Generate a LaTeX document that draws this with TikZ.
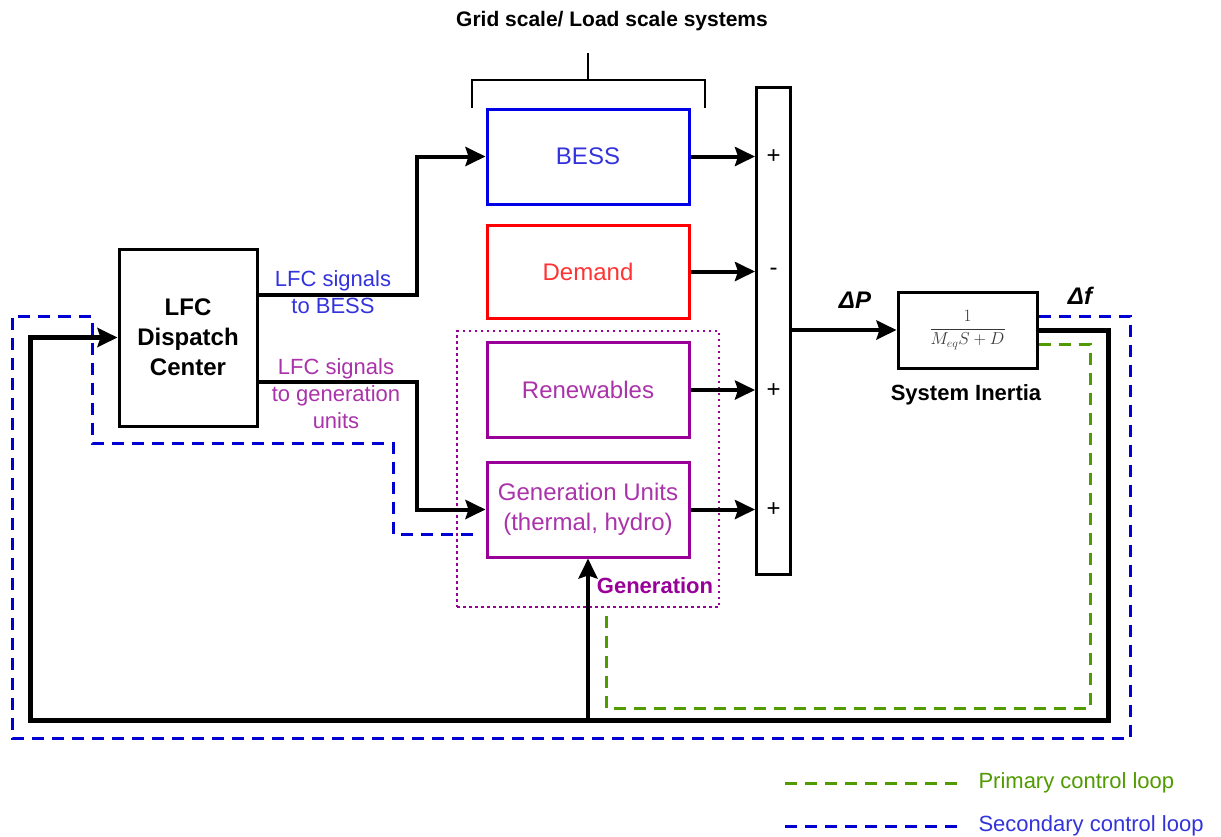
\documentclass[tikz,border=0pt]{standalone}
\usepackage{fontspec}
\setmainfont{Liberation Sans}
\usepackage{tikz}
\usetikzlibrary{arrows.meta,positioning}
\usepackage{xcolor}
\definecolor{bessblue}{RGB}{0,0,230}
\definecolor{besstext}{RGB}{51,51,221}
\definecolor{demandred}{RGB}{255,0,0}
\definecolor{demandtext}{RGB}{255,51,51}
\definecolor{genpurple}{RGB}{153,0,153}
\definecolor{gentext}{RGB}{170,51,170}
\definecolor{loopgreen}{RGB}{80,155,0}
\definecolor{loopblue}{RGB}{0,0,210}
\definecolor{tfgray}{RGB}{55,55,55}
\tikzstyle{block} = [draw, line width=3pt, minimum width=202pt, minimum height=95pt, inner sep=0pt, align=center, font=\fontsize{24}{28}\selectfont]
\tikzstyle{arrow} = [line width=4pt,->,>={Stealth[length=20pt,width=19pt,inset=3pt]}]
\tikzstyle{feedback} = [line width=5pt,->,>={Stealth[length=20pt,width=19pt,inset=3pt]}]
\tikzstyle{primary} = [line width=3pt, color=loopgreen, dash pattern=on 12pt off 8pt]
\tikzstyle{secondary} = [line width=3pt, color=loopblue, dash pattern=on 12pt off 8pt]
\tikzstyle{sign} = [font=\fontsize{24}{28}\selectfont]
\tikzstyle{lbl} = [align=center, font=\fontsize{22}{27}\selectfont]

\begin{document}
\begin{tikzpicture}[x=1pt, y=-1pt]
\useasboundingbox[fill=white] (0,0) rectangle (1221,836);

% Grid / load scale bracket
\node[font=\bfseries\fontsize{21}{25}\selectfont] (title) at (612,21) {Grid scale/ Load scale systems};
\draw[line width=2pt] (472,108) -- (472,80) -- (705,80) -- (705,108);
\draw[line width=2pt] (588,80) -- (588,53);

% Generation zone
\node[draw=genpurple, line width=2.5pt, dash pattern=on 2.5pt off 3.5pt, minimum width=262pt, minimum height=276pt] (genzone) at (588,469) {};
\node[genpurple, font=\bfseries\fontsize{22}{26}\selectfont] (genlabel) at (655,586) {Generation};

% Blocks
\node[block, draw=bessblue, text=besstext] (bess) at (588,156.5) {BESS};
\node[block, draw=demandred, text=demandtext, minimum height=93pt] (demand) at (588,271.5) {Demand};
\node[block, draw=genpurple, text=gentext] (renew) at (588,390) {Renewables};
\node[block, draw=genpurple, text=gentext, font=\fontsize{24}{30}\selectfont] (gen) at (588,509.5) {Generation Units\\(thermal, hydro)};

% LFC dispatch center
\node[block, draw=black, minimum width=138pt, minimum height=177pt, font=\bfseries\fontsize{24}{30}\selectfont] (lfc) at (188,337.5) {LFC\\Dispatch\\Center};

% Summation bar
\node[draw, line width=3pt, minimum width=34pt, minimum height=487pt] (sum) at (773.5,331) {};
\node[sign] (s1) at (773.5,157) {+};
\node[sign] (s2) at (773.5,272) {-};
\node[sign] (s3) at (773.5,391) {+};
\node[sign] (s4) at (773.5,510) {+};

% System inertia
\node[draw, line width=3pt, minimum width=139pt, minimum height=76pt, text=tfgray, font=\fontsize{17}{20}\selectfont] (tf) at (967.5,330) {$\displaystyle\frac{1}{M_{eq}S+D}$};
\node[font=\bfseries\fontsize{22}{26}\selectfont] (tflabel) at (966,395) {System Inertia};
\node[font=\bfseries\itshape\fontsize{24}{28}\selectfont] (dp) at (855,300) {ΔP};
\node[font=\bfseries\itshape\fontsize{24}{28}\selectfont] (df) at (1080,296) {Δf};

% Signals
\draw[arrow] ([yshift=43pt]lfc.east) -- ++(158,0) |- (bess.west);
\draw[arrow] ([yshift=-44.5pt]lfc.east) -- ++(158,0) |- (gen.west);
\node[lbl, text=besstext] (sigbess) at (333,292) {LFC signals\\to BESS};
\node[lbl, text=gentext] (siggen) at (336,394) {LFC signals\\to generation\\units};

\draw[arrow] (bess.east) -- (bess.east -| sum.west);
\draw[arrow] (demand.east) -- (demand.east -| sum.west);
\draw[arrow] (renew.east) -- (renew.east -| sum.west);
\draw[arrow] (gen.east) -- (gen.east -| sum.west);
\draw[arrow] (sum.east |- tf.west) -- (tf.west);

% Feedback
\coordinate (fbR) at (1108,720);
\coordinate (fbL) at (30,720);
\draw[feedback] (tf.east) -| (fbR) -- (fbL) |- (lfc.west);
\draw[arrow] (gen.south |- fbL) -- (gen.south);

% Control loops
\draw[primary] ([yshift=-14pt]tf.east) -- (1090,344) -- (1090,708) -- (606,708) -- (606,610);
\draw[secondary] ([yshift=14pt]tf.east) -- (1130,316) -- (1130,738) -- (12,738) -- (12,316) -- (92,316) -- (92,443) -- (393,443) -- (393,534) -- (475,534);

% Legend
\draw[primary] (785,783) -- (960,783);
\node[anchor=west, text=loopgreen, font=\fontsize{22}{26}\selectfont] (legprim) at (975,783) {Primary control loop};
\draw[secondary] (785,826) -- (960,826);
\node[anchor=west, text=loopblue!80!white, font=\fontsize{22}{26}\selectfont] (legsec) at (975,826) {Secondary control loop};
\end{tikzpicture}
\end{document}
